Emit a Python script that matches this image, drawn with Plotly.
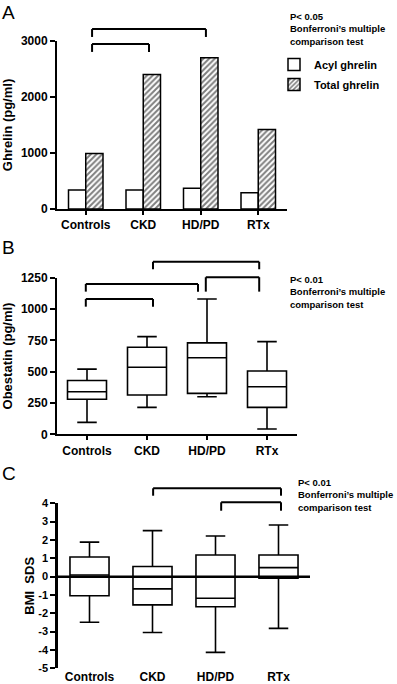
import plotly.graph_objects as go

W, H = 397, 684

categories = ["Controls", "CKD", "HD/PD", "RTx"]

# Panel A: ghrelin bars (pg/ml)
acyl_ghrelin = [340, 340, 370, 290]
total_ghrelin = [990, 2400, 2700, 1420]

# Panel B: obestatin box plots (pg/ml)
obe_low = [95, 215, 300, 42]
obe_q1 = [280, 314, 327, 215]
obe_med = [340, 535, 611, 380]
obe_q3 = [430, 695, 730, 505]
obe_high = [520, 780, 1080, 740]

# Panel C: BMI SDS box plots
bmi_low = [-2.49, -3.05, -4.13, -2.82]
bmi_q1 = [-1.04, -1.54, -1.64, -0.09]
bmi_med = [0.09, -0.67, -1.18, 0.49]
bmi_q3 = [1.07, 0.55, 1.18, 1.18]
bmi_high = [1.88, 2.51, 2.22, 2.82]

y_ticks_a = [0, 1000, 2000, 3000]
y_ticks_b = [0, 250, 500, 750, 1000, 1250]
y_ticks_c = [-5, -4, -3, -2, -1, 0, 1, 2, 3, 4]
y_labels_c = ["-5", "-4", "-3", "-2", "-1", "0", "1", "2", "3", "4"]

FONT = "Liberation Sans, Arial, Helvetica, sans-serif"
xpos = list(range(len(categories)))


def px_x(p):
    return p / W


def px_y(p):
    return 1 - p / H


fig = go.Figure()

fig.add_trace(go.Bar(
    x=xpos, y=acyl_ghrelin, name="Acyl ghrelin",
    marker=dict(color="white", line=dict(color="black", width=1.5)),
    xaxis="x", yaxis="y", legendgroup="a",
))
fig.add_trace(go.Bar(
    x=xpos, y=total_ghrelin, name="Total ghrelin",
    marker=dict(color="white", line=dict(color="black", width=1.5),
                pattern=dict(shape="/", fgcolor="black", bgcolor="white",
                             size=4, solidity=0.5)),
    xaxis="x", yaxis="y", legendgroup="b",
))

box_style = dict(fillcolor="white", line=dict(color="black", width=1.6),
                 whiskerwidth=0.5, showlegend=False, hoverinfo="skip")

fig.add_trace(go.Box(
    x=xpos, q1=obe_q1, median=obe_med, q3=obe_q3,
    lowerfence=obe_low, upperfence=obe_high, width=0.65,
    xaxis="x2", yaxis="y2", **box_style))

fig.add_trace(go.Box(
    x=xpos, q1=bmi_q1, median=bmi_med, q3=bmi_q3,
    lowerfence=bmi_low, upperfence=bmi_high, width=0.62,
    xaxis="x3", yaxis="y3", **box_style))

tickfont = dict(family=FONT, size=12, color="black", weight="bold")
titlefont = dict(family=FONT, size=13, color="black", weight="bold")

xcommon = dict(range=[-0.5, 3.5], tickvals=xpos, ticktext=categories,
               showgrid=False, zeroline=False, tickfont=tickfont, automargin=False,
               ticks="outside", ticklen=4, tickwidth=1.5, tickcolor="black")
ycommon = dict(showgrid=False, zeroline=False, showline=True, linecolor="black",
               linewidth=2, ticks="outside", ticklen=5, tickwidth=1.5, automargin=False,
               tickcolor="black", tickfont=tickfont)

fig.update_layout(
    width=W, height=H,
    margin=dict(l=0, r=0, t=0, b=0, autoexpand=False),
    paper_bgcolor="white", plot_bgcolor="white",
    barmode="group", bargap=0.4, bargroupgap=0,
    font=dict(family=FONT, color="black"),
    xaxis=dict(domain=[px_x(57), px_x(287)], anchor="y", showline=True,
               linecolor="black", linewidth=2, **xcommon),
    yaxis=dict(domain=[px_y(209), px_y(41)], anchor="x", range=[0, 3000],
               tickvals=y_ticks_a,
               title=dict(text="Ghrelin (pg/ml)", font=titlefont), **ycommon),
    xaxis2=dict(domain=[px_x(57), px_x(297)], anchor="y2", showline=True,
                linecolor="black", linewidth=2, **xcommon),
    yaxis2=dict(domain=[px_y(434.3), px_y(277.7)], anchor="x2", range=[0, 1250],
                tickvals=y_ticks_b,
                title=dict(text="Obestatin (pg/ml)", font=titlefont), **ycommon),
    xaxis3=dict(domain=[px_x(58), px_x(310)], anchor="y3", showline=False,
                **{**xcommon, "ticks": "", "ticklen": 0}),
    yaxis3=dict(domain=[px_y(668.3), px_y(503.3)], anchor="x3", range=[-5, 4],
                tickvals=y_ticks_c, ticktext=y_labels_c,
                title=dict(text="BMI\u00a0\u00a0SDS", font=titlefont, standoff=1),
                **{**ycommon, "linewidth": 2.5,
                   "tickfont": dict(family=FONT, size=11, color="black", weight="bold")}),
    legend=dict(x=px_x(274), y=px_y(50), xanchor="left", yanchor="top",
                font=dict(family=FONT, size=11, color="black", weight="bold"),
                bgcolor="rgba(0,0,0,0)", tracegroupgap=1, traceorder="grouped"),
    showlegend=True,
)

# significance brackets: (panel axes, from, to, bar level, tip level) in domain units
brackets = [
    ("x", "y", 0.11, 2.09, 1.071, 1.024),
    ("x", "y", 0.11, 1.10, 0.982, 0.935),
    ("x2", "y2", 1.10, 2.87, 1.102, 1.054),
    ("x2", "y2", -0.02, 1.85, 0.960, 0.911),
    ("x2", "y2", 1.98, 2.87, 1.003, 0.911),
    ("x2", "y2", -0.02, 1.10, 0.864, 0.815),
    ("x3", "y3", 1.01, 3.04, 1.091, 1.046),
    ("x3", "y3", 2.09, 3.04, 1.006, 0.955),
]
line = dict(color="black", width=2)
for xr, yr, x0, x1, yb, yt in brackets:
    yd = yr + " domain"
    fig.add_shape(type="line", xref=xr, yref=yd, x0=x0, x1=x1, y0=yb, y1=yb, line=line)
    fig.add_shape(type="line", xref=xr, yref=yd, x0=x0, x1=x0, y0=yb, y1=yt, line=line)
    fig.add_shape(type="line", xref=xr, yref=yd, x0=x1, x1=x1, y0=yb, y1=yt, line=line)

# zero reference line in panel C (above boxes)
fig.add_shape(type="line", xref="x3 domain", yref="y3", x0=0, x1=1, y0=0, y1=0,
              line=dict(color="black", width=2.5), layer="above")

note_font = dict(family=FONT, size=9.5, color="black", weight="bold")
notes = [
    ("P< 0.05<br>Bonferroni\u2019s multiple<br>comparison test", 288, 29),
    ("P< 0.01<br>Bonferroni\u2019s multiple<br>comparison test", 288, 291.7),
    ("P< 0.01<br>Bonferroni\u2019s multiple<br>comparison test", 296, 495),
]
for txt, x, y in notes:
    fig.add_annotation(text=txt, xref="paper", yref="paper", x=px_x(x), y=px_y(y),
                       xanchor="left", yanchor="middle", align="left",
                       showarrow=False, font=note_font)

for letter, y, anchor in [("A", 0, "top"), ("B", 247, "middle"), ("C", 473, "middle")]:
    fig.add_annotation(text=letter, xref="paper", yref="paper", x=0, y=px_y(y),
                       xanchor="left", yanchor=anchor, showarrow=False,
                       font=dict(family=FONT, size=19, color="black"))

fig.write_html("out.html", config={"displayModeBar": False},
               post_script="document.body.style.margin='0';document.body.style.overflow='hidden';")
